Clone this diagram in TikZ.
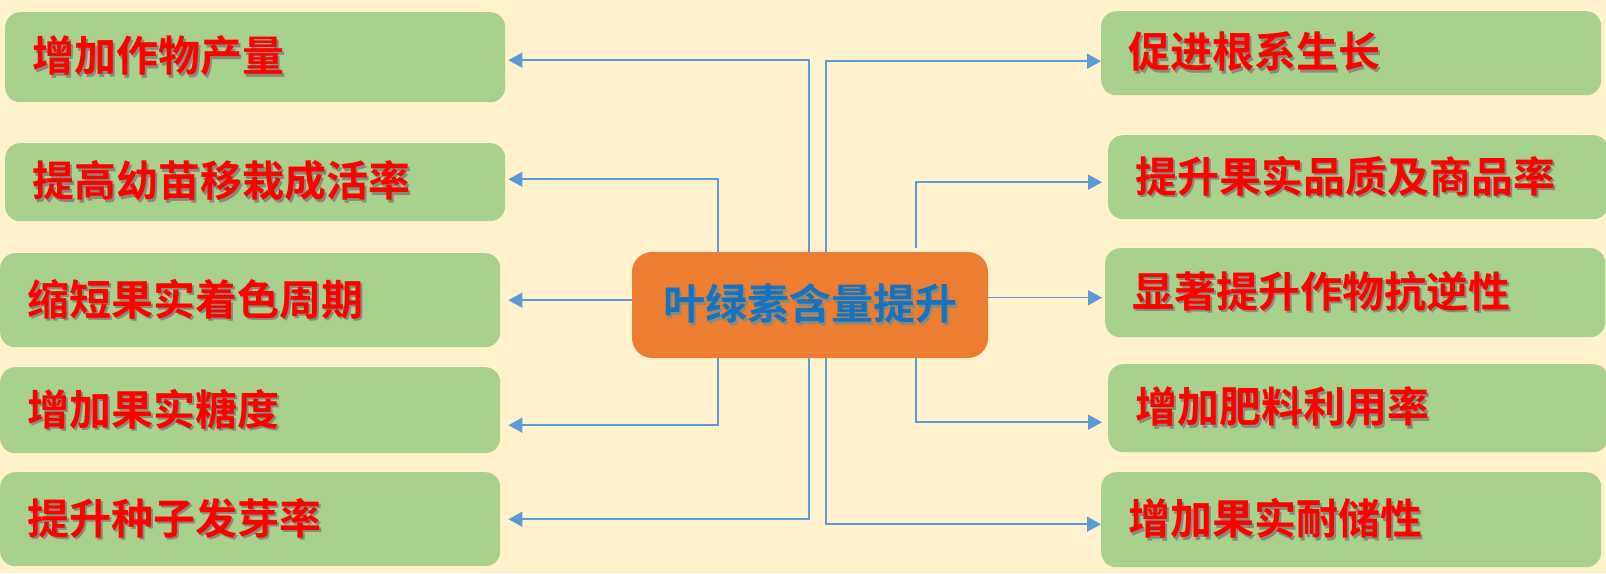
\documentclass[tikz,border=0pt]{standalone}
\usepackage{fontspec}
\usepackage{xcolor}
\usetikzlibrary{arrows.meta}
\newfontfamily\cjk{Noto Sans CJK SC Bold}
\definecolor{paper}{HTML}{FFF2CC}
\definecolor{leafgreen}{HTML}{A9D18E}
\definecolor{huborange}{HTML}{ED7D31}
\definecolor{linkblue}{HTML}{5B9BD5}
\definecolor{hubblue}{HTML}{1A72BD}
\definecolor{shadegray}{HTML}{8A8A7A}
\newcommand\shtext[2]{\makebox[0pt][l]{\hspace{2.5pt}\raisebox{-2.5pt}{\textcolor{shadegray}{#2}}}\textcolor{#1}{#2}}

\begin{document}
\begin{tikzpicture}[x=1pt,y=-1pt,
  leaf/.style={fill=leafgreen,rounded corners=15pt,anchor=north west,text width=446pt,inner xsep=27pt,inner ysep=0pt,align=left,font=\cjk\fontsize{42}{48}\selectfont},
  hubbox/.style={fill=huborange,rounded corners=20pt,minimum width=356pt,minimum height=106pt,inner sep=0pt,font=\cjk\fontsize{42}{48}\selectfont},
  link/.style={draw=linkblue,line width=1.5pt,-{Triangle[length=14pt,width=15pt]}}]
\useasboundingbox (0,0) rectangle (1606,573);
\fill[paper] (0,0) rectangle (1606,573);
\node[hubbox] (hub) at (810,305) {\shtext{hubblue}{叶绿素含量提升}};
\node[leaf,minimum height=90pt] (yield) at (5,12) {\shtext{red}{增加作物产量}};
\node[leaf,minimum height=78pt] (seedling) at (5,143) {\shtext{red}{提高幼苗移栽成活率}};
\node[leaf,minimum height=94pt] (coloring) at (0,253) {\shtext{red}{缩短果实着色周期}};
\node[leaf,minimum height=86pt] (sugar) at (0,367) {\shtext{red}{增加果实糖度}};
\node[leaf,minimum height=94pt] (germ) at (0,472) {\shtext{red}{提升种子发芽率}};
\node[leaf,minimum height=84pt] (root) at (1101,11) {\shtext{red}{促进根系生长}};
\node[leaf,minimum height=84pt] (quality) at (1108,135) {\shtext{red}{提升果实品质及商品率}};
\node[leaf,minimum height=89pt] (stress) at (1105,248) {\shtext{red}{显著提升作物抗逆性}};
\node[leaf,minimum height=88pt] (fert) at (1108,364) {\shtext{red}{增加肥料利用率}};
\node[leaf,minimum height=95pt] (storage) at (1101,472) {\shtext{red}{增加果实耐储性}};
\draw[link,shorten >=3pt] ([xshift=-1pt]hub.north) |- ([yshift=-3pt]yield.east);
\draw[link,shorten >=3pt] ([xshift=-92pt]hub.north) |- ([yshift=3pt]seedling.east);
\draw[link,shorten >=8pt] (coloring.east -| hub.west) -- (coloring.east);
\draw[link,shorten >=8pt] ([xshift=-92pt]hub.south) |- ([yshift=-15pt]sugar.east);
\draw[link,shorten >=8pt] ([xshift=-1pt]hub.south) |- (germ.east);
\draw[link] ([xshift=16pt]hub.north) |- ([yshift=-8pt]root.west);
\draw[link,shorten >=6pt] ([xshift=106pt,yshift=4pt]hub.north) |- ([yshift=-5pt]quality.west);
\draw[link,shorten >=3pt] ([yshift=-5pt]stress.west -| hub.east) -- ([yshift=-5pt]stress.west);
\draw[link,shorten >=6pt] ([xshift=106pt]hub.south) |- ([yshift=-14pt]fert.west);
\draw[link] ([xshift=16pt]hub.south) |- ([yshift=-4.5pt]storage.west);
\end{tikzpicture}
\end{document}
